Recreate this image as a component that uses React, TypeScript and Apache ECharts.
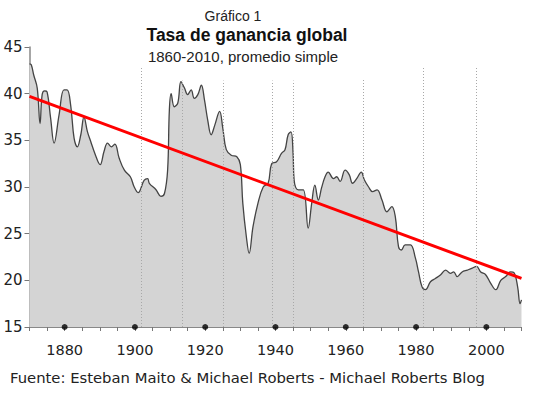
import React, { useEffect, useRef } from "react";
import * as echarts from "echarts";

const years = [
  1870.0, 1870.5, 1871.2, 1872.2, 1873.0, 1873.6, 1874.3, 1875.0, 1876.0, 1877.0,
  1878.4, 1879.8, 1880.7, 1881.7, 1882.7, 1883.6, 1884.6, 1885.5, 1886.5, 1887.4,
  1888.6, 1890.1, 1891.2, 1892.2, 1893.3, 1894.3, 1895.5, 1897.0, 1898.7, 1899.8,
  1900.9, 1902.6, 1903.6, 1904.1, 1906.0, 1907.4, 1908.4, 1909.3, 1909.8, 1910.3,
  1911.2, 1912.2, 1913.1, 1914.1, 1915.0, 1916.0, 1916.9, 1917.9, 1918.9, 1919.8,
  1920.7, 1921.7, 1922.7, 1924.1, 1925.0, 1926.0, 1927.4, 1929.0, 1930.0, 1930.7,
  1931.7, 1932.5, 1933.6, 1935.0, 1936.5, 1937.9, 1938.9, 1940.3, 1941.7, 1942.7,
  1943.6, 1944.4, 1945.0, 1945.3, 1946.5, 1947.9, 1949.3, 1950.3, 1951.2, 1952.2,
  1953.1, 1954.1, 1955.0, 1956.5, 1957.4, 1958.4, 1959.8, 1961.0, 1961.9, 1963.1,
  1964.4, 1965.3, 1966.5, 1967.6, 1968.9, 1970.3, 1971.7, 1973.1, 1974.1, 1975.0,
  1975.8, 1976.9, 1978.4, 1979.8, 1980.7, 1981.7, 1982.7, 1984.1, 1985.5, 1987.0,
  1988.4, 1989.8, 1990.7, 1991.7, 1993.1, 1994.6, 1996.0, 1997.2, 1998.4, 1999.8,
  2001.2, 2002.7, 2004.1, 2005.5, 2006.9, 2007.9, 2008.9, 2009.6, 2010.0,
];

const rates = [
  43.2, 43.1, 42.0, 40.6, 36.8, 39.9, 40.3, 40.2, 37.4, 34.7,
  37.7, 40.4, 40.4, 38.8, 35.2, 34.3, 35.6, 37.5, 35.9, 34.9,
  33.6, 32.4, 33.8, 34.7, 34.3, 34.6, 33.1, 31.8, 31.1, 30.0,
  29.4, 30.7, 30.9, 30.4, 29.7, 29.0, 29.3, 31.8, 38.25, 40.0,
  38.6, 39.0, 41.3, 40.6, 39.9, 40.4, 39.5, 39.9, 40.9, 39.3,
  37.2, 35.6, 36.6, 38.1, 36.3, 34.0, 33.4, 33.25, 32.4, 28.25,
  24.7, 22.9, 25.75, 28.25, 30.0, 30.4, 32.5, 32.7, 33.6, 34.0,
  35.6, 35.9, 33.6, 30.75, 29.7, 29.7, 25.6, 28.25, 30.2, 28.6,
  29.9, 31.1, 31.6, 30.9, 31.1, 30.6, 31.8, 31.3, 30.4, 30.9,
  31.6, 30.75, 30.0, 29.5, 29.7, 28.6, 27.35, 27.9, 26.8, 23.6,
  23.25, 23.8, 23.8, 22.4, 20.9, 19.3, 19.0, 19.85, 20.2, 20.6,
  21.1, 20.75, 20.9, 20.4, 20.9, 21.1, 21.3, 21.5, 20.9, 20.6,
  19.7, 19.0, 20.0, 20.4, 20.9, 20.8, 19.3, 17.5, 17.9,
];

const trendYears = [1870, 2010];
const trendValues = [39.7, 20.2];

const markerYears = [1901.7, 1913.6, 1925.0, 1939.0, 1945.0, 1965.0, 1982.0, 1997.2];
const markerTops = [42.9, 41.4, 41.4, 41.4, 41.4, 41.5, 42.9, 42.9];

const dotYears = [1880, 1900, 1920, 1940, 1960, 1980, 2000];

const titleTop = "Gráfico 1";
const titleMain = "Tasa de ganancia global";
const titleSub = "1860-2010, promedio simple";
const sourceText = "Fuente: Esteban Maito & Michael Roberts - Michael Roberts Blog";

export default function App() {
  const ref = useRef<HTMLDivElement>(null);
  useEffect(() => {
    if (!ref.current) return;
    const chart = echarts.init(ref.current, null, { renderer: "svg" });
    const curve = years.map((y, i) => [y, rates[i]]);
    const trend = trendYears.map((y, i) => [y, trendValues[i]]);
    const markers = markerYears.map((y, i) => [
      { coord: [y, 15] },
      { coord: [y, markerTops[i]] },
    ]);
    const dots = dotYears.map((y) => [y, 15]);
    chart.setOption({
      animation: false,
      backgroundColor: "#ffffff",
      grid: { left: 29.5, right: 13.5, top: 47, bottom: 72 },
      xAxis: {
        type: "value",
        min: 1870,
        max: 2010,
        interval: 5,
        axisLine: { lineStyle: { color: "#888", width: 1 } },
        axisTick: { length: 4, lineStyle: { color: "#777" } },
        splitLine: { show: false },
        axisLabel: {
          margin: 15,
          color: "#222",
          fontFamily: "DejaVu Sans",
          fontSize: 14.5,
          formatter: (v: number) =>
            v % 20 === 0 && v >= 1880 && v <= 2000 ? String(v) : "",
        },
      },
      yAxis: {
        type: "value",
        min: 15,
        max: 45,
        interval: 5,
        axisLine: { show: true, lineStyle: { color: "#888", width: 1.5 } },
        axisTick: { show: true, length: 5, lineStyle: { color: "#777" } },
        splitLine: { show: false },
        axisLabel: {
          margin: 7,
          color: "#222",
          fontFamily: "DejaVu Sans",
          fontSize: 15,
        },
      },
      series: [
        {
          type: "line",
          data: curve,
          smooth: 0.4,
          symbol: "none",
          lineStyle: { color: "#444", width: 1.3 },
          areaStyle: { color: "#d4d4d4", origin: "start", opacity: 1 },
          z: 2,
          markLine: {
            silent: true,
            symbol: ["none", "none"],
            label: { show: false },
            lineStyle: { color: "#a8a8a8", type: [1, 2], width: 1 },
            data: markers,
            z: 3,
          },
        },
        {
          type: "line",
          data: trend,
          symbol: "none",
          lineStyle: { color: "#ff0000", width: 3 },
          z: 4,
        },
        {
          type: "scatter",
          data: dots,
          symbol: "circle",
          symbolSize: 6,
          itemStyle: { color: "#000" },
          clip: false,
          z: 5,
        },
      ],
      graphic: [
        {
          type: "text",
          x: 233,
          y: 16,
          style: {
            text: titleTop,
            fontFamily: "Liberation Sans",
            fontSize: 14,
            fill: "#222",
            textAlign: "center",
            textVerticalAlign: "middle",
          },
        },
        {
          type: "text",
          x: 247,
          y: 35,
          style: {
            text: titleMain,
            fontFamily: "Liberation Sans",
            fontSize: 17.5,
            fontWeight: "bold",
            fill: "#111",
            textAlign: "center",
            textVerticalAlign: "middle",
          },
        },
        {
          type: "text",
          x: 243,
          y: 56,
          style: {
            text: titleSub,
            fontFamily: "Liberation Sans",
            fontSize: 15,
            fill: "#222",
            textAlign: "center",
            textVerticalAlign: "middle",
          },
        },
        {
          type: "text",
          x: 10,
          y: 377,
          style: {
            text: sourceText,
            fontFamily: "DejaVu Sans",
            fontSize: 14.8,
            fill: "#222",
            textAlign: "left",
            textVerticalAlign: "middle",
          },
        },
      ],
    });
    return () => chart.dispose();
  }, []);
  return (
    <div
      ref={ref}
      style={{ position: "fixed", left: 0, top: 0, width: 535, height: 399 }}
    />
  );
}
